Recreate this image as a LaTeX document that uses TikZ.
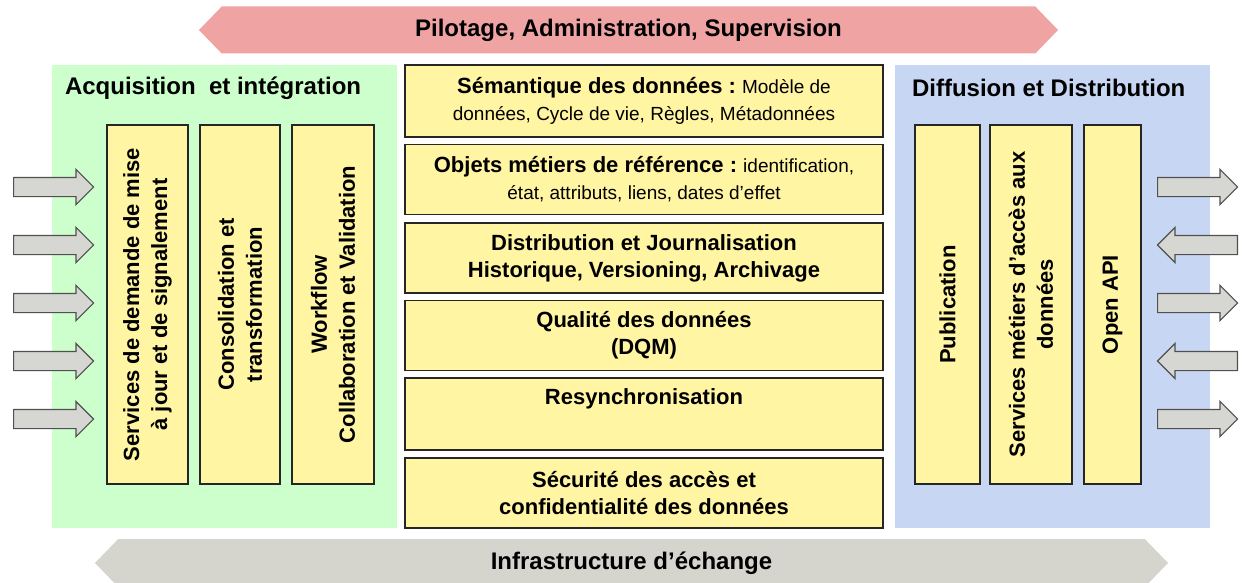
\documentclass[tikz,border=0pt]{standalone}
\usepackage{fontspec}
\setmainfont{Liberation Sans}
\usetikzlibrary{shapes.arrows}

\definecolor{pilotfill}{HTML}{F0A3A3}
\definecolor{infrafill}{HTML}{D5D5CE}
\definecolor{acqfill}{HTML}{CCFFCC}
\definecolor{difffill}{HTML}{C7D6F2}
\definecolor{boxfill}{HTML}{FFF5A3}
\definecolor{flowfill}{HTML}{D6D6D2}
\definecolor{flowdraw}{HTML}{505050}

\tikzset{
  % Banners on top and bottom
  banner/.style={double arrow, double arrow head extend=0pt, double arrow tip angle=92,
    inner sep=0pt, minimum width=23.5pt, font=\fontsize{12}{14}\selectfont\bfseries},
  % Coloured zones
  zone/.style={rectangle, inner sep=0pt},
  zonetitle/.style={anchor=west, font=\fontsize{12}{14}\selectfont\bfseries},
  % Yellow boxes
  block/.style={rectangle, draw=black!85, line width=0.6pt, fill=boxfill, align=center,
    inner sep=0pt, minimum width=239pt, minimum height=35pt, font=\fontsize{11}{13.5}\selectfont\bfseries},
  column/.style={rectangle, draw=black!85, line width=0.6pt, fill=boxfill, align=center,
    rotate=90, inner sep=0pt, minimum width=179.5pt, font=\fontsize{11}{14}\selectfont\bfseries},
  % Grey flow arrows
  flow/.style={single arrow, single arrow head extend=4pt, single arrow tip angle=90,
    inner sep=4.5pt, minimum height=40pt, fill=flowfill, draw=flowdraw, line width=0.6pt, anchor=tail},
}

\newcommand{\smalltxt}[1]{{\fontsize{9.5}{12.5}\selectfont\mdseries #1}}

\begin{document}
\begin{tikzpicture}[x=0.5pt, y=-0.5pt]
  \useasboundingbox (0,0) rectangle (1242,583);

  % --- BANNERS ---
  \node[banner, fill=pilotfill, minimum height=429.5pt] (pilot) at (628.5,30) {Pilotage, Administration,\ Supervision};
  \node[banner, fill=infrafill, minimum height=536.5pt, minimum width=24pt] (infra) at (631.5,563) {Infrastructure d’échange};

  % --- ACQUISITION ---
  \node[zone, fill=acqfill, minimum width=172.5pt, minimum height=231.5pt] (acq) at (224.5,296.5) {};
  \node[zonetitle] (acqtitle) at (58,88) {Acquisition\ \ et intégration};
  \node[column, minimum height=40.5pt] (acq-1) at (147.5,304.5) {Services de demande de mise\\à jour et de signalement};
  \node[column, minimum height=40pt] (acq-2) at (240,304.5) {Consolidation et\\transformation};
  \node[column, minimum height=41pt] (acq-3) at (333,304.5) {Workflow\\Collaboration et Validation};

  % --- DIFFUSION ---
  \node[zone, fill=difffill, minimum width=157.5pt, minimum height=231.5pt] (diff) at (1052.5,296.5) {};
  \node[zonetitle] (difftitle) at (905,88) {Diffusion et Distribution};
  \node[column, minimum height=32.5pt] (diff-1) at (947.5,304.5) {Publication};
  \node[column, minimum height=41pt] (diff-2) at (1031,304.5) {Services métiers d'accès aux\\données};
  \node[column, minimum height=28.5pt] (diff-3) at (1112.5,304.5) {Open API};

  % --- CENTRAL BLOCKS ---
  \node[block, minimum height=36pt] (sem) at (644,101) {Sémantique des données :~\smalltxt{Modèle de}\\\smalltxt{données,\ Cycle de vie,\ Règles, Métadonnées}};
  \node[block] (obj) at (644,179.5) {Objets métiers de référence :~\smalltxt{identification,}\\\smalltxt{état, attributs, liens, dates d’effet}};
  \node[block] (dist) at (644,258) {Distribution et Journalisation\\Historique, Versioning, Archivage};
  \node[block] (dqm) at (644,335.5) {Qualité des données\\(DQM)};
  \node[block, minimum height=36pt] (resync) at (644,414) {Resynchronisation\\\strut};
  \node[block] (secu) at (644,493) {Sécurité des accès et\\confidentialité des données};

  % --- INPUT / OUTPUT FLOWS ---
  \foreach \y [count=\i] in {187,245,303,361,419}
    \node[flow] (in-\i) at (13,\y) {};
  \foreach \y/\dir/\x [count=\i] in {187/0/1157,245/180/1238,303/0/1157,361/180/1238,419/0/1157}
    \node[flow, shape border rotate=\dir] (out-\i) at (\x,\y) {};

\end{tikzpicture}
\end{document}
